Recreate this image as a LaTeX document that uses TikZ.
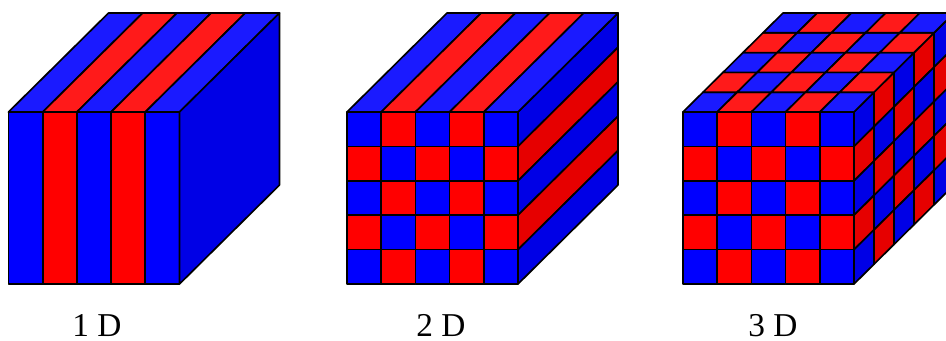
\documentclass[tikz,border=0pt]{standalone}
\usepackage{fontspec}
\setmainfont{Liberation Serif}
\definecolor{fb}{RGB}{0,0,255}
\definecolor{fr}{RGB}{255,0,0}
\definecolor{tb}{RGB}{26,26,255}
\definecolor{tr}{RGB}{255,26,26}
\definecolor{sb}{RGB}{0,0,230}
\definecolor{sr}{RGB}{230,0,0}
\tikzset{
  cell/.style={draw=black,line width=1.25pt,line join=round},
  caption/.style={font=\fontsize{25}{25}\selectfont,anchor=base,inner sep=0pt}
}
\newcommand{\pickcol}[3]{% #1 index parity, #2 colour for even, #3 colour for odd
  \ifodd#1\relax\def\cellcol{#3}\else\def\cellcol{#2}\fi}
\newcommand{\cubeA}[1]{%
  \begin{scope}[shift={(#1,112)}]
    \foreach \i in {0,...,4}{
      \pickcol{\i}{fb}{fr}
      \path[cell,fill=\cellcol] (\i*34.2,0) rectangle ({(\i+1)*34.2},172);
      \pickcol{\i}{tb}{tr}
      \path[cell,fill=\cellcol] (\i*34.2,0) -- ({\i*34.2+100},-99) -- ({(\i+1)*34.2+100},-99) -- ({(\i+1)*34.2},0) -- cycle;
    }
    \path[cell,fill=sb] (171,0) -- (271,-99) -- (271,73) -- (171,172) -- cycle;
  \end{scope}}
\newcommand{\cubeB}[1]{%
  \begin{scope}[shift={(#1,112)}]
    \foreach \i in {0,...,4}{
      \pickcol{\i}{tb}{tr}
      \path[cell,fill=\cellcol] (\i*34.2,0) -- ({\i*34.2+100},-99) -- ({(\i+1)*34.2+100},-99) -- ({(\i+1)*34.2},0) -- cycle;
      \pickcol{\i}{sb}{sr}
      \path[cell,fill=\cellcol] (171,\i*34.4) -- (271,{\i*34.4-99}) -- (271,{(\i+1)*34.4-99}) -- (171,{(\i+1)*34.4}) -- cycle;
      \foreach \j in {0,...,4}{
        \pgfmathtruncatemacro{\parity}{\i+\j}
        \pickcol{\parity}{fb}{fr}
        \path[cell,fill=\cellcol] (\i*34.2,\j*34.4) rectangle ({(\i+1)*34.2},{(\j+1)*34.4});
      }
    }
  \end{scope}}
\newcommand{\cubeC}[1]{%
  \begin{scope}[shift={(#1,112)}]
    \foreach \i in {0,...,4}{
      \foreach \j in {0,...,4}{
        \pgfmathtruncatemacro{\parity}{\i+\j}
        \pickcol{\parity}{fb}{fr}
        \path[cell,fill=\cellcol] (\i*34.2,\j*34.4) rectangle ({(\i+1)*34.2},{(\j+1)*34.4});
        \pickcol{\parity}{tb}{tr}
        \path[cell,fill=\cellcol]
          ({\i*34.2+\j*20},{-\j*19.8}) -- ({\i*34.2+(\j+1)*20},{-(\j+1)*19.8})
          -- ({(\i+1)*34.2+(\j+1)*20},{-(\j+1)*19.8}) -- ({(\i+1)*34.2+\j*20},{-\j*19.8}) -- cycle;
        \pickcol{\parity}{sb}{sr}
        \path[cell,fill=\cellcol]
          ({171+\i*20},{\j*34.4-\i*19.8}) -- ({171+(\i+1)*20},{\j*34.4-(\i+1)*19.8})
          -- ({171+(\i+1)*20},{(\j+1)*34.4-(\i+1)*19.8}) -- ({171+\i*20},{(\j+1)*34.4-\i*19.8}) -- cycle;
      }
    }
  \end{scope}}
\begin{document}
\begin{tikzpicture}[x=0.75pt,y=-0.75pt]
  \useasboundingbox (0,0) rectangle (946,340);
  \begin{scope}
    \clip (0,0) rectangle (946,340);
    \cubeA{8.5}
    \cubeB{347}
    \cubeC{683}
  \end{scope}
  \node[caption] (labelA) at (97,336.5) {1 D};
  \node[caption] (labelB) at (441,336.5) {2 D};
  \node[caption] (labelC) at (773,336.5) {3 D};
\end{tikzpicture}
\end{document}
